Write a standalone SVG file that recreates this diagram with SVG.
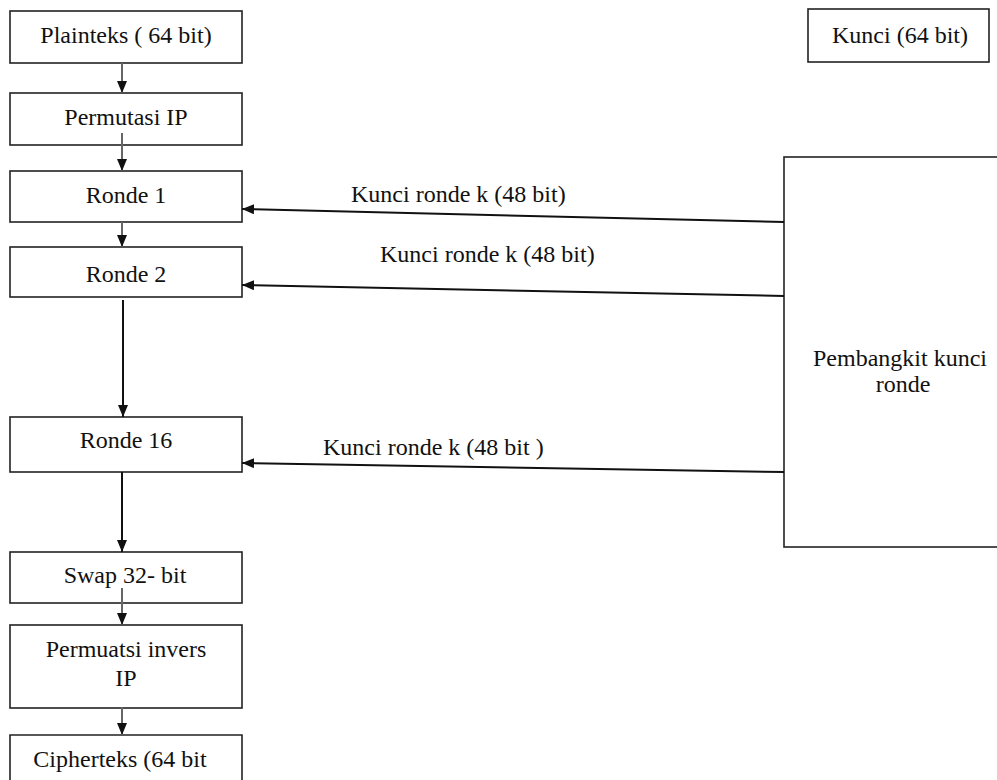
<svg xmlns="http://www.w3.org/2000/svg" width="997" height="780" viewBox="0 0 997 780">
<defs>
<style>
text{font-family:'Liberation Serif','Times New Roman','DejaVu Serif',serif}
.box{fill:#fff;stroke:#222;stroke-width:1.6}
.t{font-size:24px;fill:#111;text-anchor:middle}
.lbl{font-size:24px;fill:#111}
.c{stroke:#111;stroke-width:2;fill:none}
.g{stroke:#666;stroke-width:2;fill:none}
</style>
<marker id="ah" viewBox="0 0 12 10" refX="12" refY="5" markerWidth="12" markerHeight="10" markerUnits="userSpaceOnUse" orient="auto">
<path d="M0,0 L12,5 L0,10 Z" fill="#111"/>
</marker>
</defs>
<rect width="997" height="780" fill="#fff"/>
<g id="plainteks"><rect class="box" x="10" y="11" width="232" height="52"/><text class="t" x="126" y="43" font-family="Liberation Serif, serif">Plainteks ( 64 bit)</text></g>
<g id="permutasi-ip"><rect class="box" x="10" y="93" width="232" height="52"/><text class="t" x="126" y="125">Permutasi IP</text></g>
<g id="ronde1"><rect class="box" x="10" y="171" width="232" height="51"/><text class="t" x="126" y="203">Ronde 1</text></g>
<g id="ronde2"><rect class="box" x="10" y="247" width="232" height="50"/><text class="t" x="126" y="282">Ronde 2</text></g>
<g id="ronde16"><rect class="box" x="10" y="417" width="232" height="55"/><text class="t" x="126" y="448">Ronde 16</text></g>
<g id="swap"><rect class="box" x="10" y="552" width="232" height="51"/><text class="t" x="125" y="583">Swap 32- bit</text></g>
<g id="permutasi-invers"><rect class="box" x="10" y="625" width="232" height="83"/><text class="t" x="126" y="657">Permuatsi invers</text><text class="t" x="126" y="686">IP</text></g>
<g id="cipherteks"><path class="box" d="M10,782 L10,735 L242,735 L242,782"/><text class="t" x="120" y="767">Cipherteks (64 bit</text></g>
<g id="kunci"><rect class="box" x="808" y="9" width="181" height="53"/><text class="t" x="900" y="43">Kunci (64 bit)</text></g>
<g id="pembangkit"><rect class="box" x="784" y="157" width="220" height="390"/><text class="t" x="900" y="366">Pembangkit kunci</text><text class="t" x="903" y="392">ronde</text></g>
<g id="connectors">
<line class="g" x1="122" y1="63" x2="122" y2="93" marker-end="url(#ah)"/>
<line class="g" x1="122" y1="133" x2="122" y2="171" marker-end="url(#ah)"/>
<line class="g" x1="122" y1="222" x2="122" y2="247" marker-end="url(#ah)"/>
<line class="c" x1="123" y1="300" x2="123" y2="417" marker-end="url(#ah)"/>
<line class="c" x1="122" y1="472" x2="122" y2="552" marker-end="url(#ah)"/>
<line class="g" x1="122" y1="588" x2="122" y2="625" marker-end="url(#ah)"/>
<line class="g" x1="122" y1="707" x2="122" y2="735" marker-end="url(#ah)"/>
<line class="c" x1="784" y1="222" x2="242" y2="209" marker-end="url(#ah)"/>
<line class="c" x1="784" y1="296" x2="242" y2="285" marker-end="url(#ah)"/>
<line class="c" x1="784" y1="472" x2="242" y2="463" marker-end="url(#ah)"/>
<text class="lbl" x="351" y="202">Kunci ronde k (48 bit)</text>
<text class="lbl" x="380" y="262">Kunci ronde k (48 bit)</text>
<text class="lbl" x="323" y="455" font-size="22">Kunci ronde k (48 bit )</text>
</g>
</svg>
